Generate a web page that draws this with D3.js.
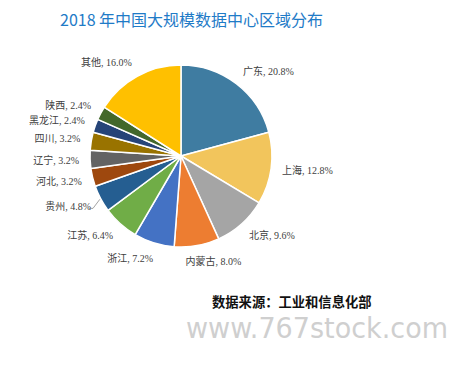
<!DOCTYPE html>
<html><head><meta charset="utf-8">
<script src="https://cdn.jsdelivr.net/npm/d3@7"></script>
<style>
html,body{margin:0;padding:0;background:#fff;}
svg{display:block;}
</style></head>
<body>
<svg id="chart" width="462" height="379"></svg>
<script>
const categories = ["广东","上海","北京","内蒙古","浙江","江苏","贵州","河北","辽宁","四川","黑龙江","陕西","其他"];
const values = [20.8,12.8,9.6,8.0,7.2,6.4,4.8,3.2,3.2,3.2,2.4,2.4,16.0];
const colors = ["#3F7CA1","#F2C55C","#A5A5A5","#ED7D31","#4472C4","#70AD47","#255E91","#9E480E","#636363","#997300","#264478","#43682B","#FFC000"];
const leaderLabels = ["贵州"];
const titleText = "2018 年中国大规模数据中心区域分布";
const sourceText = "数据来源：工业和信息化部";
const watermarkText = "www.767stock.com";

const svg = d3.select("#chart");
const cx = 181, cy = 156, r = 91, lr = 102;

svg.append("text").attr("x",60).attr("y",26)
  .attr("font-family","'Noto Sans CJK SC','Noto Sans',sans-serif")
  .attr("font-size",16).attr("fill","#1F7BC7").text(titleText);

const data = categories.map((c,i)=>({name:c,value:values[i],color:colors[i]}));
const pie = d3.pie().value(d=>d.value).sort(null);
const arcs = pie(data);
const arc = d3.arc().innerRadius(0).outerRadius(r);

const g = svg.append("g").attr("transform",`translate(${cx},${cy})`);
g.selectAll("path").data(arcs).join("path")
  .attr("d",arc).attr("fill",d=>d.data.color)
  .attr("stroke","#fff").attr("stroke-width",1.5).attr("stroke-linejoin","round");

const fmt = d3.format(".1f");
arcs.forEach(a=>{
  const m = (a.startAngle+a.endAngle)/2;
  const s = Math.sin(m), c = Math.cos(m);
  const px = lr*s, py = -lr*c - c*5;
  const t = g.append("text")
    .attr("font-family","'Liberation Serif','Noto Sans CJK SC',serif")
    .attr("font-size",10).attr("fill","#404040")
    .attr("dominant-baseline","central")
    .attr("y",py)
    .text(a.data.name + ", " + fmt(a.data.value) + "%");
  const w = t.node().getComputedTextLength();
  const k = Math.max(-1,Math.min(1,3*s));
  const left = px - w*(1-k)/2;
  t.attr("x",left);
  if(leaderLabels.includes(a.data.name)){
    const ex = (r+1)*s, ey = -(r+1)*c;
    const x0 = left + w + 1;
    g.append("path")
      .attr("d",`M${x0-3},${py+2}L${x0+1},${py+2}L${ex},${ey}`)
      .attr("fill","none").attr("stroke","#8C8C8C").attr("stroke-width",0.8);
  }
});

svg.append("text").attr("x",212).attr("y",307)
  .attr("font-family","'Noto Sans CJK SC',sans-serif").attr("font-weight","bold")
  .attr("font-size",13.3).attr("fill","#111").text(sourceText);

svg.append("text").attr("x",186).attr("y",338)
  .attr("font-family","'DejaVu Sans','Open Sans',sans-serif")
  .attr("font-size",28).attr("fill","#CFCFCF")
  .attr("textLength",262).attr("lengthAdjust","spacingAndGlyphs")
  .text(watermarkText);
</script>
</body></html>
